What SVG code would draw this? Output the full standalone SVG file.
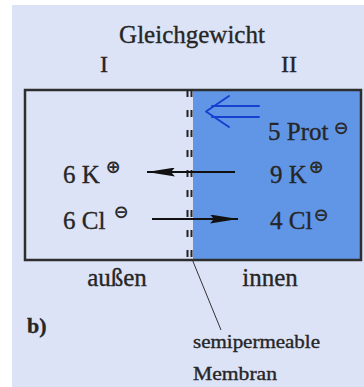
<svg xmlns="http://www.w3.org/2000/svg" width="364" height="387" viewBox="0 0 364 387">
<defs>
<style>
.t{font-family:"Liberation Serif","Times New Roman",serif;fill:#262626;stroke:#262626;stroke-width:0.35}
.sup{font-family:"DejaVu Sans",sans-serif;fill:#2a2a2a;font-weight:bold;text-anchor:middle}
</style>
<marker id="ah" viewBox="0 0 28 9" refX="28" refY="4.5" markerWidth="14" markerHeight="4.5" markerUnits="strokeWidth" orient="auto-start-reverse"><path d="M0,0 L28,4.5 L0,9 L4,4.5 Z" fill="#111"/></marker>
</defs>
<rect x="0" y="0" width="364" height="387" fill="#ffffff"/>
<rect x="12" y="5" width="352" height="382" fill="#dde3f6"/>
<g id="title"><text class="t" x="192" y="43" font-size="25" text-anchor="middle">Gleichgewicht</text></g>
<g id="label-I"><text class="t" x="104" y="72" font-size="24" text-anchor="middle">I</text></g>
<g id="label-II"><text class="t" x="289" y="72" font-size="24" text-anchor="middle">II</text></g>
<g id="box">
<rect x="193" y="90" width="168" height="170" fill="#6196e6"/>
<rect x="25" y="90" width="336" height="170" fill="none" stroke="#2e2e2e" stroke-width="2.5"/>
</g>
<g id="membrane">
<line x1="187.5" y1="90" x2="187.5" y2="260" stroke="#222" stroke-width="2" stroke-dasharray="7 13"/>
<line x1="191.5" y1="90" x2="191.5" y2="260" stroke="#222" stroke-width="2" stroke-dasharray="7 13"/>
</g>
<g id="prot"><text class="t" x="268" y="140" font-size="25">5 Prot</text><text class="sup" x="341" y="134" font-size="18">⊖</text></g>
<g id="k-out"><text class="t" x="63" y="183" font-size="25">6 K</text><text class="sup" x="113" y="173" font-size="18">⊕</text></g>
<g id="k-in"><text class="t" x="270" y="183" font-size="25">9 K</text><text class="sup" x="316" y="173" font-size="18">⊕</text></g>
<g id="cl-out"><text class="t" x="63" y="229" font-size="25">6 Cl</text><text class="sup" x="121" y="218" font-size="18">⊖</text></g>
<g id="cl-in"><text class="t" x="270" y="229" font-size="25">4 Cl</text><text class="sup" x="321" y="221" font-size="18">⊖</text></g>
<g id="connectors">
<line x1="235" y1="172" x2="147" y2="172" stroke="#111" stroke-width="2" marker-end="url(#ah)"/>
<line x1="152" y1="219" x2="238" y2="219" stroke="#111" stroke-width="2" marker-end="url(#ah)"/>
<g fill="none" stroke="#1840d0" stroke-width="2" stroke-linecap="round" stroke-linejoin="round">
<line x1="212" y1="106" x2="259" y2="106"/>
<line x1="212" y1="117" x2="259" y2="117"/>
<polyline points="229,96 206,111.5 229,127"/>
</g>
<line x1="192" y1="259" x2="221" y2="330" stroke="#333" stroke-width="1"/>
</g>
<g id="outside"><text class="t" x="117" y="286" font-size="25" text-anchor="middle">außen</text></g>
<g id="inside"><text class="t" x="270" y="286" font-size="25" text-anchor="middle">innen</text></g>
<g id="b"><text class="t" x="27" y="333" font-size="22" font-weight="bold">b)</text></g>
<g id="membrane-label">
<text class="t" x="193" y="348" font-size="18" textLength="127" lengthAdjust="spacingAndGlyphs">semipermeable</text>
<text class="t" x="193" y="380" font-size="18" textLength="84" lengthAdjust="spacingAndGlyphs">Membran</text>
</g>
</svg>
